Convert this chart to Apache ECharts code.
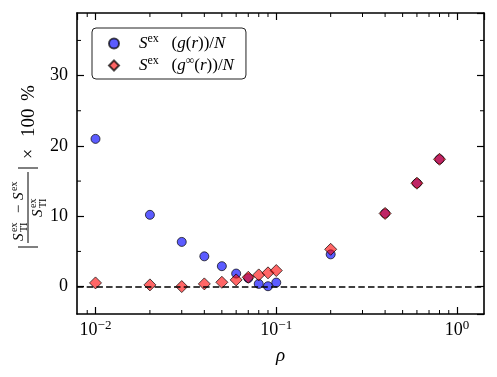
<!DOCTYPE html>
<html>
<head>
<meta charset="utf-8">
<script src="https://cdn.jsdelivr.net/npm/echarts@6/dist/echarts.min.js"></script>
<style>
  html, body { margin: 0; padding: 0; background: #fff; }
  #chart { width: 497px; height: 377px; }
</style>
</head>
<body>
<div id="chart"></div>
<script>
// density values (x) and relative error in percent
var rho = [0.01, 0.02, 0.03, 0.04, 0.05, 0.06, 0.07, 0.08, 0.09, 0.1, 0.2, 0.4, 0.6, 0.8];
var errG = [21.0, 10.2, 6.35, 4.3, 2.9, 1.85, 1.2, 0.38, 0.05, 0.57, 4.58, 10.4, 14.7, 18.1];
var errGinf = [0.52, 0.24, 0.0, 0.38, 0.61, 0.95, 1.32, 1.66, 1.95, 2.28, 5.3, 10.4, 14.7, 18.1];
var xMinorTicks = [0.009, 0.02, 0.03, 0.04, 0.05, 0.06, 0.07, 0.08, 0.09,
  0.2, 0.3, 0.4, 0.5, 0.6, 0.7, 0.8, 0.9];
var yMinorTicks = [5, 15, 25, 35];

var FONT = "Liberation Serif";
var CSSFONT = "'Liberation Serif', serif";
var chart = echarts.init(document.getElementById("chart"));

function pairs(xs, ys) {
  return xs.map(function (x, i) { return [x, ys[i]]; });
}

function txt(x, y, s, font, align) {
  return {
    type: "text", x: x, y: y,
    style: { text: s, font: font + " " + CSSFONT, align: align || "left", verticalAlign: "middle", fill: "#000" }
  };
}

// S^ex_TI built from pieces, local coords of the rotated y label
function sTI(x, y) {
  return [
    txt(x, y, "S", "italic 15px"),
    txt(x + 9, y - 5, "ex", "10px"),
    txt(x + 9, y + 5, "TI", "10px")
  ];
}

var yLabel = [
  { type: "line", shape: { x1: 0, y1: -10, x2: 0, y2: 10 }, style: { stroke: "#000", lineWidth: 1 } },
  { type: "line", shape: { x1: 4, y1: 0, x2: 75, y2: 0 }, style: { stroke: "#000", lineWidth: 1 } },
  txt(38, -9, "−", "15px", "center"),
  txt(47, -9, "S", "italic 15px"),
  txt(56, -14, "ex", "10px"),
  { type: "line", shape: { x1: 79, y1: -10, x2: 79, y2: 10 }, style: { stroke: "#000", lineWidth: 1 } },
  txt(93, 1, "×", "18px", "center"),
  txt(110, 1, "100", "19px"),
  txt(146, 1, "%", "19px")
].concat(sTI(6, -9), sTI(30, 10));

var tickStyle = { color: "#000", width: 1.2 };

function frameLine() {
  return { show: true, onZero: false, lineStyle: { color: "#000", width: 1.6 } };
}

chart.setOption({
  animation: false,
  backgroundColor: "#fff",
  textStyle: { fontFamily: FONT, color: "#000" },
  grid: { left: 77, right: 13, top: 13, bottom: 63 },
  legend: {
    orient: "vertical",
    left: 92,
    top: 28,
    padding: [5, 12, 5, 16],
    itemGap: 3,
    itemWidth: 10,
    itemHeight: 10,
    backgroundColor: "#fff",
    borderColor: "#222",
    borderWidth: 1,
    borderRadius: 4,
    data: ["g", "ginf"],
    formatter: function (name) {
      if (name === "g") return "{i0|S}{sup|ex}   ({i|g}({i|r}))/{i|N}";
      return "{i0|S}{sup|ex}   ({i|g}{sup|∞}({i|r}))/{i|N}";
    },
    textStyle: {
      fontFamily: FONT,
      fontSize: 17,
      color: "#000",
      lineHeight: 17,
      rich: {
        i0: { fontStyle: "italic", fontSize: 17, padding: [0, 0, 0, 15], fontFamily: FONT },
        i: { fontStyle: "italic", fontSize: 17, fontFamily: FONT },
        sup: { fontSize: 12, padding: [0, 0, 9, 0], fontFamily: FONT }
      }
    }
  },
  xAxis: [
    {
      type: "log",
      min: 0.0079,
      max: 1.41,
      name: "ρ",
      nameLocation: "middle",
      nameGap: 32,
      nameTextStyle: { fontFamily: FONT, fontSize: 19, fontStyle: "italic", color: "#000" },
      axisLine: frameLine(),
      axisTick: { inside: true, length: 7, lineStyle: tickStyle },
      splitLine: { show: false },
      axisLabel: {
        margin: 5,
        fontSize: 18,
        color: "#000",
        fontFamily: FONT,
        showMinLabel: false,
        showMaxLabel: false,
        formatter: function (v) {
          var e = Math.round(Math.log10(v));
          return "10{sup|" + (e < 0 ? "−" + (-e) : e) + "}";
        },
        rich: { sup: { fontSize: 13, padding: [0, 0, 10, 0], fontFamily: FONT } }
      }
    },
    {
      type: "log",
      position: "top",
      min: 0.0079,
      max: 1.41,
      axisLine: frameLine(),
      axisTick: { inside: true, length: 7, lineStyle: tickStyle },
      axisLabel: { show: false },
      splitLine: { show: false }
    }
  ],
  yAxis: [
    {
      type: "value",
      min: -3.9,
      max: 38.9,
      axisLine: frameLine(),
      axisTick: { show: true, inside: true, length: 7, lineStyle: tickStyle },
      splitLine: { show: false },
      axisLabel: {
        margin: 9,
        fontSize: 18,
        color: "#000",
        fontFamily: FONT,
        showMinLabel: false,
        showMaxLabel: false
      }
    },
    {
      type: "value",
      position: "right",
      min: -3.9,
      max: 38.9,
      axisLine: frameLine(),
      axisTick: { show: true, inside: true, length: 7, lineStyle: tickStyle },
      axisLabel: { show: false },
      splitLine: { show: false }
    }
  ],
  graphic: [
    { type: "group", x: 28, y: 247, rotation: Math.PI / 2, children: yLabel }
  ],
  series: [
    {
      name: "zero",
      type: "line",
      data: [],
      z: 1,
      silent: true,
      markLine: {
        silent: true,
        symbol: ["none", "none"],
        label: { show: false },
        lineStyle: { color: "#000", width: 1.6, type: [6.5, 3.2] },
        data: [{ yAxis: 0 }]
      }
    },
    {
      name: "g",
      type: "scatter",
      z: 3,
      symbol: "circle",
      symbolSize: 9,
      itemStyle: { color: "rgba(0,0,255,0.64)", borderColor: "rgba(0,0,0,0.7)", borderWidth: 1, opacity: 1 },
      data: pairs(rho, errG)
    },
    {
      name: "ginf",
      type: "scatter",
      z: 4,
      symbol: "diamond",
      symbolSize: 12,
      itemStyle: { color: "rgba(255,0,0,0.6)", borderColor: "rgba(0,0,0,0.7)", borderWidth: 1, opacity: 1 },
      data: pairs(rho, errGinf)
    },
    {
      // minor log ticks, bottom and top
      type: "custom",
      silent: true,
      z: 5,
      data: xMinorTicks.map(function (v) { return [v, 0]; }),
      renderItem: function (params, api) {
        var cs = params.coordSys;
        var x = api.coord([api.value(0), 0])[0];
        var b = cs.y + cs.height;
        return {
          type: "group",
          children: [
            { type: "line", shape: { x1: x, y1: b, x2: x, y2: b - 4 }, style: { stroke: "#000", lineWidth: 1 } },
            { type: "line", shape: { x1: x, y1: cs.y, x2: x, y2: cs.y + 4 }, style: { stroke: "#000", lineWidth: 1 } }
          ]
        };
      }
    },
    {
      // minor y ticks, left and right
      type: "custom",
      silent: true,
      z: 5,
      data: yMinorTicks.map(function (v) { return [0.1, v]; }),
      renderItem: function (params, api) {
        var cs = params.coordSys;
        var y = api.coord([api.value(0), api.value(1)])[1];
        var r = cs.x + cs.width;
        return {
          type: "group",
          children: [
            { type: "line", shape: { x1: cs.x, y1: y, x2: cs.x + 4, y2: y }, style: { stroke: "#000", lineWidth: 1 } },
            { type: "line", shape: { x1: r, y1: y, x2: r - 4, y2: y }, style: { stroke: "#000", lineWidth: 1 } }
          ]
        };
      }
    }
  ]
});
</script>
</body>
</html>
